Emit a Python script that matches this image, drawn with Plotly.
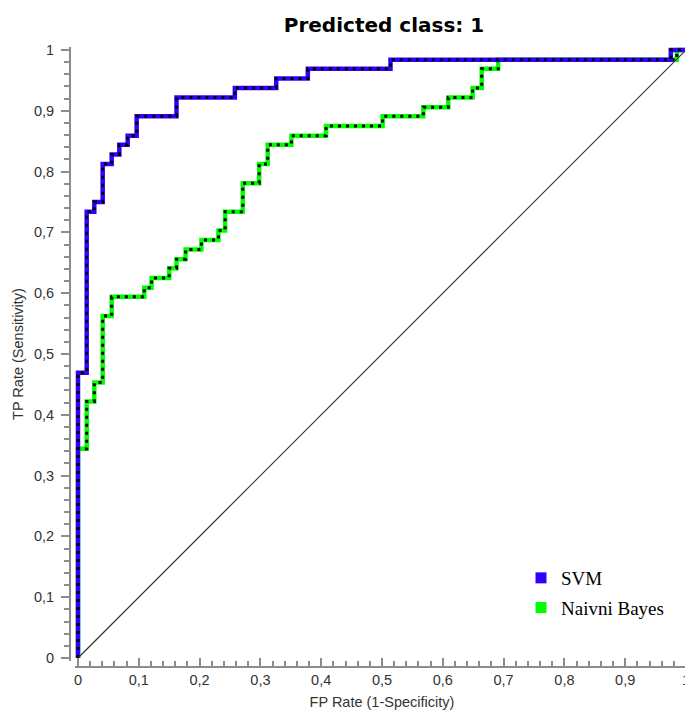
import plotly.graph_objects as go

# ROC data (FP rate, TP rate at each step corner)
svm_fpr = [0, 0, 0.0143, 0.0268, 0.0406, 0.0554, 0.068, 0.0817, 0.0965, 0.162,
           0.258, 0.326, 0.378, 0.514, 0.975, 1.0]
svm_tpr = [0, 0.469, 0.734, 0.750, 0.8125, 0.828, 0.844, 0.859, 0.891, 0.922,
           0.9375, 0.953, 0.969, 0.984, 1.0, 1.0]

nb_fpr = [0, 0, 0.0143, 0.0268, 0.0406, 0.0554, 0.109, 0.121, 0.150, 0.162,
          0.177, 0.203, 0.231, 0.242, 0.271, 0.298, 0.312, 0.351, 0.408, 0.501,
          0.568, 0.609, 0.649, 0.664, 0.691, 0.985, 1.0]
nb_tpr = [0, 0.344, 0.422, 0.453, 0.5625, 0.594, 0.609, 0.625, 0.641, 0.656,
          0.672, 0.6875, 0.703, 0.734, 0.781, 0.8125, 0.844, 0.859, 0.875, 0.891,
          0.906, 0.922, 0.9375, 0.969, 0.984, 1.0, 1.0]

diag_x = [0, 1]
diag_y = [0, 1]

series_names = ["SVM", "Naivni Bayes"]
series_colors = ["#3300ff", "#00ff00"]

fig = go.Figure()

# Naive Bayes (drawn first, beneath SVM)
fig.add_trace(go.Scatter(x=nb_fpr, y=nb_tpr, mode="lines", line_shape="hv",
                         line=dict(color=series_colors[1], width=4.5),
                         showlegend=False, hoverinfo="skip"))
fig.add_trace(go.Scatter(x=nb_fpr, y=nb_tpr, mode="lines", line_shape="hv",
                         line=dict(color="black", width=3, dash="3px,5px"),
                         showlegend=False, hoverinfo="skip"))
# SVM
fig.add_trace(go.Scatter(x=svm_fpr, y=svm_tpr, mode="lines", line_shape="hv",
                         line=dict(color=series_colors[0], width=4.5),
                         showlegend=False, hoverinfo="skip"))
fig.add_trace(go.Scatter(x=svm_fpr, y=svm_tpr, mode="lines", line_shape="hv",
                         line=dict(color="black", width=3, dash="3px,5px"),
                         showlegend=False, hoverinfo="skip"))
# diagonal reference
fig.add_trace(go.Scatter(x=diag_x, y=diag_y, mode="lines",
                         line=dict(color="#333333", width=1.2),
                         showlegend=False, hoverinfo="skip"))

# legend entries (square swatches)
for name, col, grp in zip(series_names, series_colors, ["a", "b"]):
    fig.add_trace(go.Scatter(x=[None], y=[None], mode="markers", name=name,
                             legendgroup=grp,
                             marker=dict(symbol="square", size=11, color=col,
                                         line=dict(width=0))))

axis_gray = "#8c8c8c"
tick_font = dict(family="Liberation Sans, Arial, sans-serif", size=14.5, color="#333333")
title_font = dict(family="Liberation Sans, Arial, sans-serif", size=14.5, color="#333333")

# the page body has an 8px default margin, so the figure is made smaller to fit
W, H = 685, 702
ML, MT, MB = 52, 32, 35
paper_h = H - MT - MB

fig.update_layout(
    width=W, height=H,
    margin=dict(l=ML, r=0, t=MT, b=MB, autoexpand=False),
    paper_bgcolor="white", plot_bgcolor="white",
    separators=",.",
    title=dict(text="<b>Predicted class: 1</b>", x=376 / W, xref="container",
               xanchor="center", y=1 - 17 / H, yref="container", yanchor="middle",
               automargin=False,
               font=dict(family="DejaVu Sans, Verdana, sans-serif", size=20, color="black")),
    xaxis=dict(range=[-0.005, 1.005], domain=[0.02363, 0.99374],
               anchor="free", position=0.0126, automargin=False,
               showgrid=False, zeroline=False,
               showline=True, linecolor=axis_gray, linewidth=2,
               ticks="inside", ticklen=8, tickwidth=2, tickcolor=axis_gray,
               tick0=0, dtick=0.1, tickfont=tick_font, ticklabeloverflow="allow",
               minor=dict(dtick=0.02, ticks="inside", ticklen=5, tickwidth=2,
                          tickcolor=axis_gray, showgrid=False),
               title=dict(text="FP Rate (1-Specificity)", standoff=14, font=title_font)),
    yaxis=dict(range=[-0.005, 1.005], domain=[0.02198, 0.98904],
               anchor="free", position=0.0158, automargin=False,
               showgrid=False, zeroline=False,
               showline=True, linecolor=axis_gray, linewidth=2,
               ticks="outside", ticklen=8, tickwidth=2, tickcolor=axis_gray,
               tick0=0, dtick=0.1, tickfont=tick_font, ticklabelstandoff=4,
               ticklabeloverflow="allow",
               minor=dict(dtick=0.02, ticks="outside", ticklen=5, tickwidth=2,
                          tickcolor=axis_gray, showgrid=False),
               title=dict(text="TP Rate (Sensitivity)", standoff=6, font=title_font)),
    legend=dict(x=(513 - ML) / 633, xanchor="left", y=(H - MB - 551) / paper_h,
                yanchor="top",
                bgcolor="rgba(0,0,0,0)", borderwidth=0, tracegroupgap=2,
                font=dict(family="Liberation Serif, Times New Roman, serif",
                          size=19, color="black")),
)

fig.write_html("out.html")
